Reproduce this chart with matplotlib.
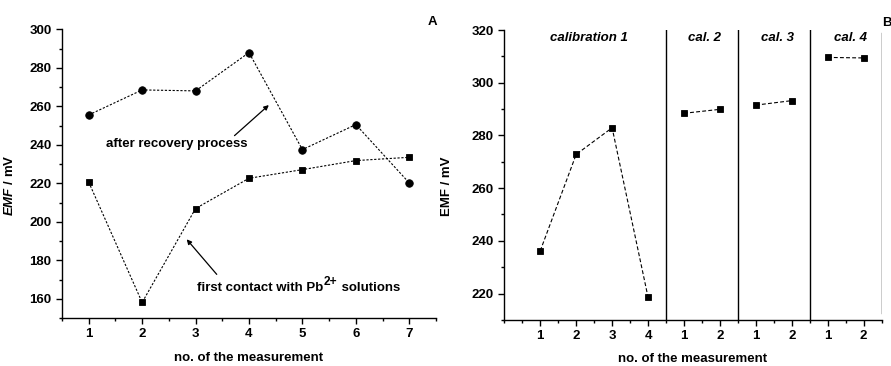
import matplotlib
matplotlib.use("Agg")
import matplotlib.pyplot as plt
from matplotlib.ticker import MultipleLocator
from matplotlib.transforms import offset_copy

plt.rcParams['font.family'] = ['Liberation Sans', 'DejaVu Sans']
plt.rcParams['font.weight'] = 'bold'
plt.rcParams['mathtext.fontset'] = 'custom'
plt.rcParams['mathtext.rm'] = 'Liberation Sans:bold'
plt.rcParams['mathtext.bf'] = 'Liberation Sans:bold'
plt.rcParams['mathtext.it'] = 'Liberation Sans:italic:bold'
plt.rcParams['mathtext.bfit'] = 'Liberation Sans:italic:bold'

# panel A
meas_a = [1, 2, 3, 4, 5, 6, 7]
recovery = [255.5, 268.5, 268.0, 287.9, 237.5, 250.5, 220.2]
first_contact = [220.6, 158.1, 206.9, 222.6, 227.1, 231.8, 233.5]

# panel B
pos_b = [1, 2, 3, 4, 5, 6, 7, 8, 9, 10]
tick_labels_b = ['1', '2', '3', '4', '1', '2', '1', '2', '1', '2']
emf_b = [236.2, 272.8, 282.9, 218.6, 288.4, 289.9, 291.5, 293.2, 309.6, 309.4]
groups_b = [(0, 4), (4, 6), (6, 8), (8, 10)]
group_names = ['calibration 1', 'cal. 2', 'cal. 3', 'cal. 4']
group_x = [2.35, 5.57, 7.59, 9.63]
separators = [4.5, 6.5, 8.5]

fig = plt.figure(figsize=(8.91, 3.66), dpi=100)
axA = fig.add_axes([0.0696, 0.131, 0.4197, 0.789])
axB = fig.add_axes([0.566, 0.126, 0.4235, 0.792])

fs = 9.5

def style(ax):
    for s in ['top', 'right']:
        ax.spines[s].set_visible(False)
    for s in ['left', 'bottom']:
        ax.spines[s].set_linewidth(1.0)
    ax.tick_params(which='major', direction='out', length=4, width=1.0, labelsize=fs)
    ax.tick_params(which='minor', direction='out', length=2.5, width=1.0)

# ---- A
axA.plot(meas_a, recovery, color='black', lw=0.8, ls=(0, (2, 1.5)),
         marker='o', ms=5.4, mew=0.6, mfc='black', mec='black')
axA.plot(meas_a, first_contact, color='black', lw=0.8, ls=(0, (2, 1.5)),
         marker='s', ms=4.6, mew=0.6, mfc='black', mec='black')
axA.set_xlim(0.5, 7.5)
axA.set_ylim(150, 300)
axA.xaxis.set_major_locator(MultipleLocator(1))
axA.xaxis.set_minor_locator(MultipleLocator(0.5))
axA.yaxis.set_major_locator(MultipleLocator(20))
axA.yaxis.set_minor_locator(MultipleLocator(10))
style(axA)
axA.set_xlabel('no. of the measurement', fontsize=fs, fontweight='bold', labelpad=8)
axA.set_ylabel(r'$\mathbfit{EMF}$ / mV', fontsize=fs, fontweight='bold')
axA.yaxis.set_label_coords(-0.123, 0.46)
axA.annotate('', xy=(4.41, 261.6), xytext=(3.69, 243.8),
             arrowprops=dict(arrowstyle='-|>', color='black', lw=0.9, mutation_scale=7))
axA.text(1.32, 240.3, 'after recovery process', ha='left', va='center', fontsize=fs, fontweight='bold')
axA.annotate('', xy=(2.8, 192.0), xytext=(3.43, 171.6),
             arrowprops=dict(arrowstyle='-|>', color='black', lw=0.9, mutation_scale=7))

# "first contact with Pb2+ solutions" with a large superscript
t1 = axA.text(3.03, 165.5, 'first contact with Pb', ha='left', va='center', fontsize=fs, fontweight='bold')
fig.canvas.draw()
r = fig.canvas.get_renderer()
w1 = t1.get_window_extent(r).width
t2 = axA.text(3.03, 165.5, '2+', ha='left', va='center', fontsize=fs * 0.9, fontweight='bold',
              transform=offset_copy(axA.transData, fig=fig, x=w1 + 0.5, y=6, units='dots'))
w2 = t2.get_window_extent(r).width
axA.text(3.03, 165.5, ' solutions', ha='left', va='center', fontsize=fs, fontweight='bold',
         transform=offset_copy(axA.transData, fig=fig, x=w1 + w2 + 1, y=0, units='dots'))
fig.text(432 / 891, 1 - 22 / 366, 'A', ha='center', va='center', fontsize=fs, fontweight='bold')

# ---- B
for (i0, i1) in groups_b:
    axB.plot(pos_b[i0:i1], emf_b[i0:i1], color='black', lw=0.8, ls=(0, (3.5, 2)),
             marker='s', ms=4.6, mew=0.6, mfc='black', mec='black')
for xs in separators:
    axB.axvline(xs, color='black', lw=1.0)
axB.axvline(10.5, ymin=0.023, ymax=0.99, color='black', lw=1.0)
for name, gx in zip(group_names, group_x):
    axB.text(gx, 316.8, name, ha='center', va='center', fontsize=fs, fontweight='bold', style='italic')
axB.set_xlim(0, 10.5)
axB.set_ylim(210, 320)
axB.set_xticks(pos_b)
axB.set_xticklabels(tick_labels_b)
axB.xaxis.set_minor_locator(MultipleLocator(0.5))
axB.yaxis.set_major_locator(MultipleLocator(20))
axB.yaxis.set_minor_locator(MultipleLocator(10))
style(axB)
axB.set_xlabel('no. of the measurement', fontsize=fs, fontweight='bold', labelpad=8)
axB.set_ylabel('EMF / mV', fontsize=fs, fontweight='bold')
axB.yaxis.set_label_coords(-0.136, 0.46)
fig.text(886.5 / 891, 1 - 22.7 / 366, 'B', ha='center', va='center', fontsize=fs, fontweight='bold')

fig.savefig('out.png', dpi=100)
